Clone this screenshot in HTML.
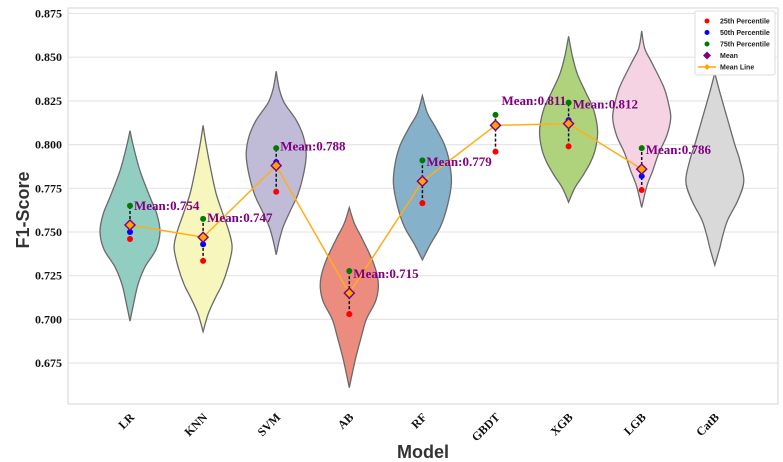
<!DOCTYPE html>
<html><head><meta charset="utf-8"><style>
body{margin:0;background:#fff;width:783px;height:462px;overflow:hidden}
svg{display:block}
.tk{font-family:"Liberation Serif",serif;font-weight:bold;font-size:12px;fill:#111}
.ml{font-family:"Liberation Serif",serif;font-weight:bold;font-size:13px;fill:#800080}
.lg{font-family:"Liberation Sans",sans-serif;font-weight:bold;font-size:7px;fill:#222}
</style></head><body>
<svg id="chart" width="783" height="462"></svg>
<script>
const categories=["LR","KNN","SVM","AB","RF","GBDT","XGB","LGB","CatB"];
const colors=["#92cdc1","#f7f6bd","#c0bcd8","#ec8c7f","#85b1ca","none","#afd37c","#f6d3e3","#d9d9d9"];
const violinLR=[[0.808,0],[0.800,3],[0.785,10],[0.770,20],[0.760,27],[0.750,30],[0.740,26],[0.730,15],[0.720,8],[0.710,4],[0.699,0]];
const violinKNN=[[0.811,0],[0.800,3],[0.785,8],[0.772,13],[0.760,20],[0.750,26],[0.741,29],[0.730,25],[0.720,19],[0.712,12],[0.703,5],[0.693,0]];
const violinSVM=[[0.842,0],[0.832,3],[0.824,8],[0.814,20],[0.805,27],[0.795,30],[0.785,28],[0.772,22],[0.762,14],[0.753,7],[0.745,3],[0.737,0]];
const violinAB=[[0.764,0],[0.755,5],[0.746,13],[0.734,23],[0.725,28],[0.718,29],[0.710,26],[0.700,17],[0.690,12],[0.677,6],[0.661,0]];
const violinRF=[[0.828,0],[0.818,5],[0.810,13],[0.800,22],[0.790,27],[0.778,29],[0.765,25],[0.753,18],[0.743,8],[0.734,0]];
const violinGBDT=[];
const violinXGB=[[0.862,0],[0.850,4],[0.840,9],[0.830,17],[0.820,25],[0.808,29],[0.798,27],[0.790,22],[0.782,14],[0.775,6],[0.767,0]];
const violinLGB=[[0.865,0],[0.855,3],[0.847,10],[0.833,22],[0.823,27],[0.815,29],[0.805,25],[0.795,17],[0.785,11],[0.776,5],[0.764,0]];
const violinCatB=[[0.841,0],[0.830,5],[0.814,13],[0.800,20],[0.791,25],[0.779,29],[0.768,23],[0.757,13],[0.748,8],[0.741,5],[0.731,0]];
const violins=[violinLR,violinKNN,violinSVM,violinAB,violinRF,violinGBDT,violinXGB,violinLGB,violinCatB];
const q25=[0.746,0.7335,0.773,0.703,0.7665,0.796,0.799,0.774];
const q50=[0.750,0.743,0.790,0.714,0.780,0.811,0.814,0.782];
const q75=[0.765,0.7575,0.798,0.7277,0.791,0.817,0.824,0.798];
const means=[0.754,0.747,0.788,0.715,0.779,0.811,0.812,0.786];
const yTicks=[0.675,0.700,0.725,0.750,0.775,0.800,0.825,0.850,0.875];

const svg=document.getElementById('chart');
const NS="http://www.w3.org/2000/svg";
const L=68,R=778,T=8,B=404;
function y(v){return 232-(v-0.75)*1748;}
function x(i){return 130+i*73.1;}
function mk(tag,attrs,parent){const e=document.createElementNS(NS,tag);for(const k in attrs)e.setAttribute(k,attrs[k]);(parent||svg).appendChild(e);return e;}

// grid
yTicks.forEach(v=>{
  const g=mk('line',{x1:L,x2:R,y1:y(v),y2:y(v),stroke:'#e6e6e6','stroke-width':1.2});
  
  
  const t=mk('text',{x:62,y:y(v)+4,'text-anchor':'end',class:'tk'});
  t.textContent=v.toFixed(3);
  
  
});
const frame=mk('rect',{x:L,y:T,width:R-L,height:B-T,fill:'none',stroke:'#dcdcdc','stroke-width':1.2});



// violins
function smooth(pts){
  let d='M'+pts[0][0]+','+pts[0][1];
  for(let i=0;i<pts.length-1;i++){
    const p0=pts[Math.max(0,i-1)],p1=pts[i],p2=pts[i+1],p3=pts[Math.min(pts.length-1,i+2)];
    const c1=[p1[0]+(p2[0]-p0[0])/6,p1[1]+(p2[1]-p0[1])/6];
    const c2=[p2[0]-(p3[0]-p1[0])/6,p2[1]-(p3[1]-p1[1])/6];
    d+=' C'+c1[0]+','+c1[1]+' '+c2[0]+','+c2[1]+' '+p2[0]+','+p2[1];
  }
  return d;
}
violins.forEach((prof,i)=>{
  if(!prof.length)return;
  const cx=x(i);
  const right=prof.map(p=>[cx+p[1],y(p[0])]);
  const left=prof.slice().reverse().map(p=>[cx-p[1],y(p[0])]);
  const d=smooth(right)+' '+smooth(left).replace(/^M/,'L')+' Z';
  const p=mk('path',{d:d,fill:colors[i],stroke:'#6a6a6a','stroke-width':1.3});
  
  
});

// percentile dashed lines and points
means.forEach((m,i)=>{
  const cx=x(i);
  const dl=mk('line',{x1:cx,x2:cx,y1:y(q25[i]),y2:y(q75[i]),stroke:'#111','stroke-width':1.5,'stroke-dasharray':'3,2'});
  
  
});
// mean line
const ml=mk('polyline',{points:means.map((m,i)=>x(i)+','+y(m)).join(' '),fill:'none',stroke:'#ffae1a','stroke-width':1.5});


means.forEach((m,i)=>{
  const cx=x(i);
  [[q25,'#ff0000','p25'],[q75,'#007a00','p75'],[q50,'#0000ff','p50']].forEach(([arr,c,n])=>{
    const c1=mk('circle',{cx:cx,cy:y(arr[i]),r:3,fill:c});
    
    
  });
  const cy=y(m);
  const dm=mk('path',{d:`M${cx},${cy-6} L${cx+6},${cy} L${cx},${cy+6} L${cx-6},${cy} Z`,fill:'#800080'});
  
  
  const dm2=mk('path',{d:`M${cx},${cy-4} L${cx+4},${cy} L${cx},${cy+4} L${cx-4},${cy} Z`,fill:'#ffa500'});
  
  
  const t=mk('text',{x:cx+(i===5?6:4),y:y(m+0.011)+(i===5?-1:4),class:'ml'});
  t.textContent='Mean:'+m.toFixed(3);
  
  
});

// x tick labels
categories.forEach((c,i)=>{
  const t=mk('text',{x:0,y:0,'text-anchor':'end',class:'tk',transform:`translate(${x(i)+5},${B+14}) rotate(-45)`});
  t.textContent=c;
  
  
});
const xt=mk('text',{x:423,y:458,'text-anchor':'middle','font-family':'"Liberation Sans",sans-serif','font-weight':'bold','font-size':18,fill:'#333'});
xt.textContent='Model';


const yt=mk('text',{x:0,y:0,'text-anchor':'middle','font-family':'"Liberation Sans",sans-serif','font-weight':'bold','font-size':18,fill:'#333',transform:'translate(29,210) rotate(-90)'});
yt.textContent='F1-Score';



// legend
const lg=mk('g',{});


mk('rect',{x:695,y:11,width:80,height:64,fill:'#fff',stroke:'#ddd','stroke-width':1,rx:2},lg);
const legItems=[['#ff0000','25th Percentile','c'],['#0000ff','50th Percentile','c'],['#007a00','75th Percentile','c'],['#800080','Mean','d'],['#ffa500','Mean Line','l']];
legItems.forEach((it,k)=>{
  const ly=21+k*11.5;
  const g=mk('g',{},lg);
  
  
  if(it[2]==='c')mk('circle',{cx:707,cy:ly,r:2.5,fill:it[0]},g);
  else if(it[2]==='d')mk('path',{d:`M707,${ly-4} L711,${ly} L707,${ly+4} L703,${ly} Z`,fill:it[0]},g);
  else{mk('line',{x1:698,x2:716,y1:ly,y2:ly,stroke:it[0],'stroke-width':1.5},g);mk('path',{d:`M707,${ly-3} L710,${ly} L707,${ly+3} L704,${ly} Z`,fill:it[0]},g);}
  const t=mk('text',{x:720,y:ly+2.5,class:'lg'},g);
  t.textContent=it[1];
});
</script>
</body></html>
